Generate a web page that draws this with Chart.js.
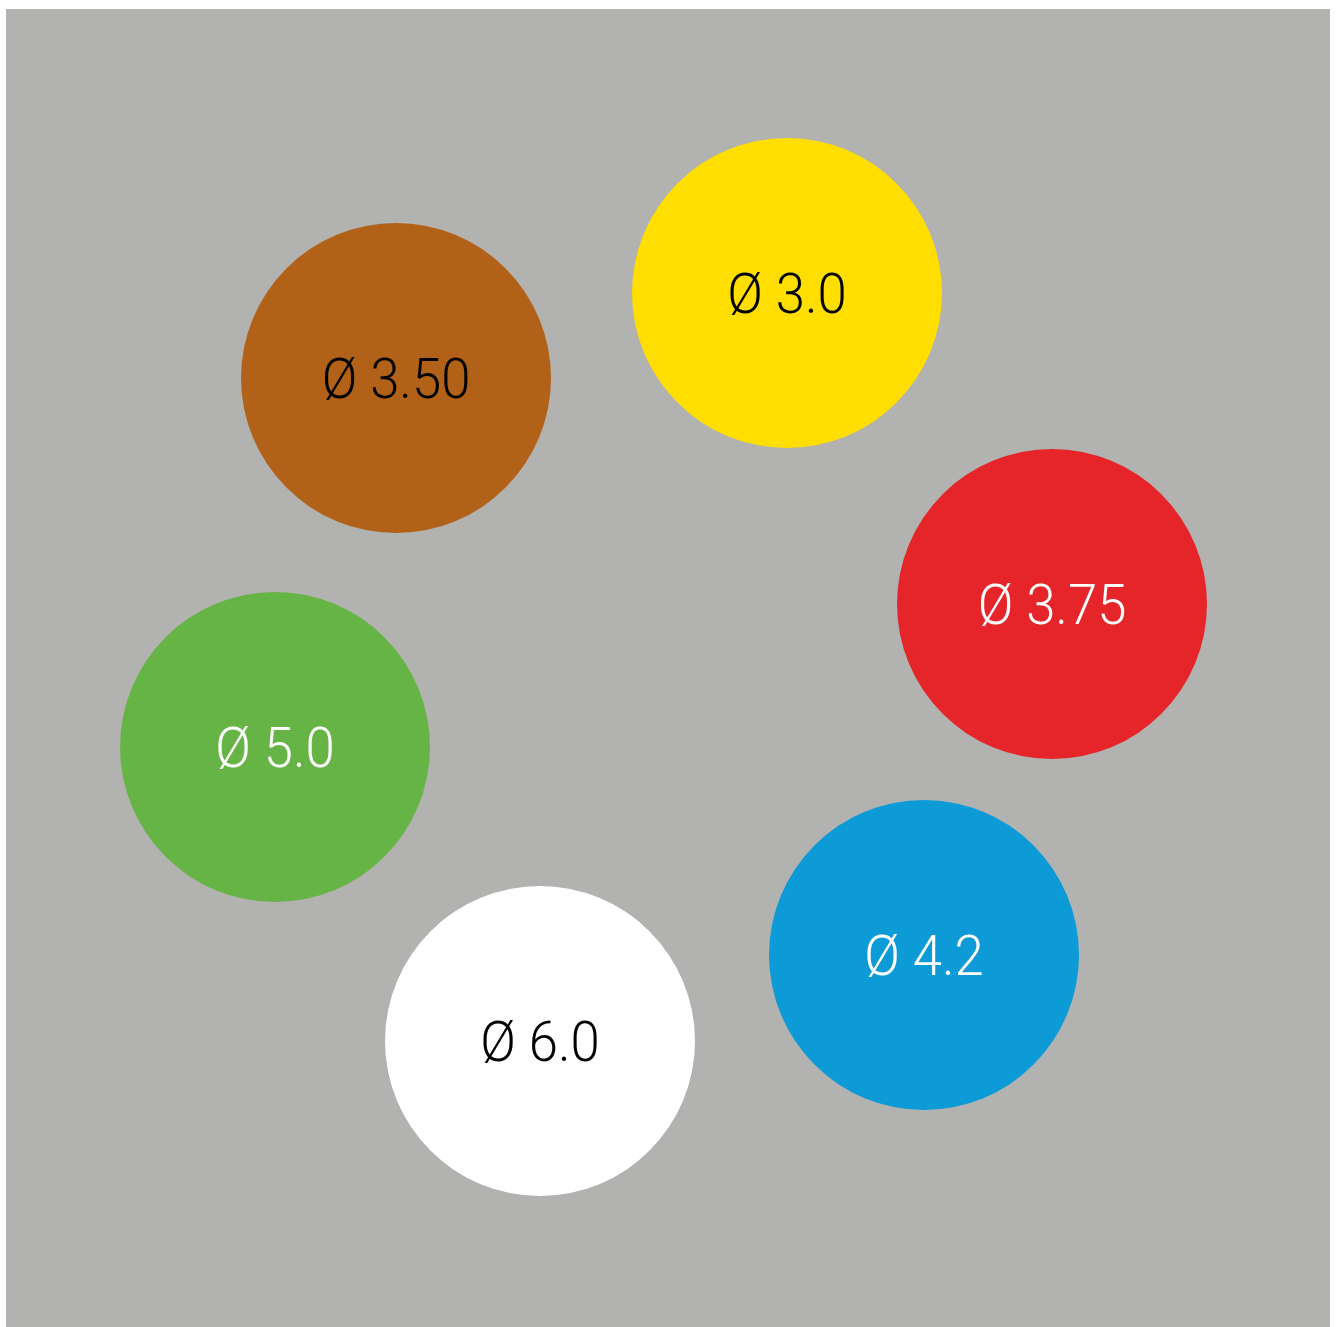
<!DOCTYPE html>
<html>
<head>
<meta charset="utf-8">
<script src="https://cdn.jsdelivr.net/npm/chart.js@4/dist/chart.umd.min.js"></script>
<style>
html,body{margin:0;padding:0;background:#ffffff;}
#wrap{width:1337px;height:1327px;}
</style>
</head>
<body>
<div id="wrap"><canvas id="c" width="1337" height="1327"></canvas></div>
<script>
// Data (units: position within the grey panel, y measured from top)
const labels = ["Ø 3.0", "Ø 3.50", "Ø 3.75", "Ø 5.0", "Ø 4.2", "Ø 6.0"];
const xValues = [781, 390, 1046, 269, 918, 534];
const yValues = [284, 369, 595, 738, 946, 1032];
const radii = [155, 155, 155, 155, 155, 155];
const fillColors = ["#ffde00", "#b26218", "#e52529", "#67b446", "#0c9bd6", "#ffffff"];
const textColors = ["#000000", "#000000", "#ffffff", "#ffffff", "#ffffff", "#000000"];

const points = xValues.map((x, i) => ({ x: x, y: yValues[i], r: radii[i] }));

const panelBg = {
  id: 'panelBg',
  beforeDraw(chart) {
    const { ctx, chartArea: a } = chart;
    ctx.save();
    ctx.fillStyle = '#b2b2b0';
    ctx.fillRect(a.left, a.top, a.right - a.left, a.bottom - a.top);
    ctx.restore();
  }
};

const bubbleLabels = {
  id: 'bubbleLabels',
  afterDatasetsDraw(chart) {
    const ctx = chart.ctx;
    const meta = chart.getDatasetMeta(0);
    ctx.save();
    ctx.font = '300 56px Roboto';
    ctx.textAlign = 'center';
    ctx.textBaseline = 'middle';
    meta.data.forEach((el, i) => {
      const sx = 0.94;
      ctx.save();
      ctx.translate(el.x, el.y + 6);
      ctx.scale(sx, 1);
      ctx.fillStyle = textColors[i];
      ctx.fillText(labels[i], 0, 0);
      ctx.restore();
    });
    ctx.restore();
  }
};

new Chart(document.getElementById('c'), {
  type: 'bubble',
  data: {
    labels: labels,
    datasets: [{
      data: points,
      backgroundColor: fillColors,
      borderWidth: 0,
      hoverBorderWidth: 0,
      clip: false
    }]
  },
  options: {
    responsive: false,
    animation: false,
    events: [],
    layout: { autoPadding: false, padding: { left: 6, top: 9, right: 7, bottom: 0 } },
    plugins: { legend: { display: false }, tooltip: { enabled: false } },
    scales: {
      x: { type: 'linear', min: 0, max: 1324, display: false },
      y: { type: 'linear', min: 0, max: 1318, reverse: true, display: false }
    }
  },
  plugins: [panelBg, bubbleLabels]
});
</script>
</body>
</html>
